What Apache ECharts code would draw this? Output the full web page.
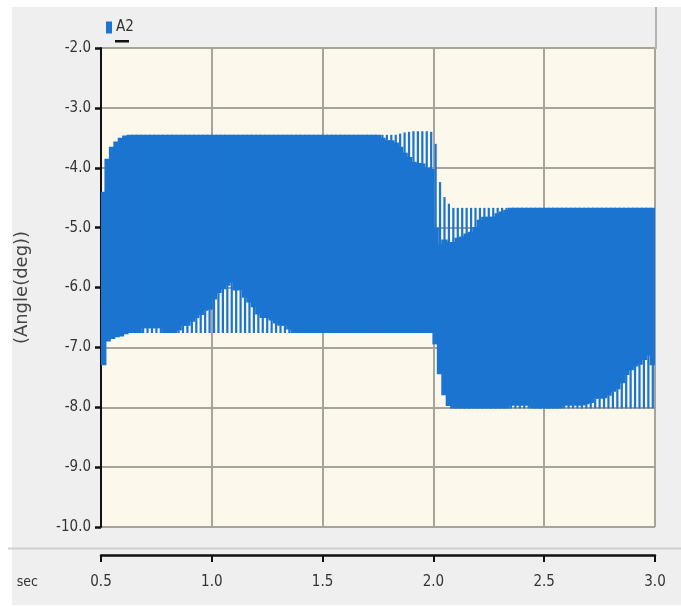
<!DOCTYPE html>
<html>
<head>
<meta charset="utf-8">
<script src="https://cdn.jsdelivr.net/npm/echarts@6/dist/echarts.min.js"></script>
<style>
html, body { margin: 0; padding: 0; background: #fff; }
#chart { width: 681px; height: 608px; }
</style>
</head>
<body>
<div id="chart"></div>
<script>
// sample grid: one column per 0.02 s, centred
var T0 = 0.51;
var STEP = 0.02;

// y tick labels (deg)
var yTicks = [-10, -9, -8, -7, -6, -5, -4, -3, -2];
var xTicks = [0.5, 1.0, 1.5, 2.0, 2.5, 3.0];

// top of the spikes
var peakHi = [
 -4.40, -3.85, -3.65, -3.56, -3.50, -3.46, -3.45, -3.45, -3.45, -3.45,
 -3.45, -3.45, -3.45, -3.45, -3.45, -3.45, -3.45, -3.45, -3.45, -3.45,
 -3.45, -3.45, -3.45, -3.45, -3.45, -3.45, -3.45, -3.45, -3.45, -3.45,
 -3.45, -3.45, -3.45, -3.45, -3.45, -3.45, -3.45, -3.45, -3.45, -3.45,
 -3.45, -3.45, -3.45, -3.45, -3.45, -3.45, -3.45, -3.45, -3.45, -3.45,
 -3.45, -3.45, -3.45, -3.45, -3.45, -3.45, -3.45, -3.45, -3.45, -3.45,
 -3.45, -3.45, -3.45, -3.45, -3.45, -3.45, -3.45, -3.43, -3.41, -3.40,
 -3.39, -3.39, -3.39, -3.39, -3.40, -3.60, -4.24, -4.49, -4.60, -4.67,
 -4.67, -4.67, -4.67, -4.67, -4.67, -4.67, -4.67, -4.67, -4.67, -4.67,
 -4.67, -4.67, -4.67, -4.67, -4.67, -4.67, -4.67, -4.67, -4.67, -4.67,
 -4.67, -4.67, -4.67, -4.67, -4.67, -4.67, -4.67, -4.67, -4.67, -4.67,
 -4.67, -4.67, -4.67, -4.67, -4.67, -4.67, -4.67, -4.67, -4.67, -4.67,
 -4.67, -4.67, -4.67, -4.67, -4.67
];
// where the dense (solid) part of the band starts, top side
var solidHi = [
 -4.40, -3.85, -3.65, -3.56, -3.50, -3.46, -3.45, -3.45, -3.45, -3.45,
 -3.45, -3.45, -3.45, -3.45, -3.45, -3.45, -3.45, -3.45, -3.45, -3.45,
 -3.45, -3.45, -3.45, -3.45, -3.45, -3.45, -3.45, -3.45, -3.45, -3.45,
 -3.45, -3.45, -3.45, -3.45, -3.45, -3.45, -3.45, -3.45, -3.45, -3.45,
 -3.45, -3.45, -3.45, -3.45, -3.45, -3.45, -3.45, -3.45, -3.45, -3.45,
 -3.45, -3.45, -3.45, -3.45, -3.45, -3.45, -3.45, -3.45, -3.45, -3.45,
 -3.45, -3.45, -3.45, -3.50, -3.54, -3.54, -3.58, -3.65, -3.75, -3.82,
 -3.90, -3.92, -3.93, -4.00, -4.02, -5.00, -5.27, -5.20, -5.24, -5.24,
 -5.17, -5.15, -5.10, -5.07, -4.99, -4.87, -4.82, -4.82, -4.82, -4.76,
 -4.73, -4.70, -4.67, -4.67, -4.67, -4.67, -4.67, -4.67, -4.67, -4.67,
 -4.67, -4.67, -4.67, -4.67, -4.67, -4.67, -4.67, -4.67, -4.67, -4.67,
 -4.67, -4.67, -4.67, -4.67, -4.67, -4.67, -4.67, -4.67, -4.67, -4.67,
 -4.67, -4.67, -4.67, -4.67, -4.67
];
// where the dense part ends, bottom side
var solidLo = [
 -7.30, -6.90, -6.86, -6.83, -6.82, -6.78, -6.76, -6.76, -6.76, -6.68,
 -6.68, -6.68, -6.68, -6.68, -6.76, -6.76, -6.76, -6.72, -6.64, -6.64,
 -6.57, -6.51, -6.46, -6.39, -6.37, -6.20, -6.09, -6.03, -5.97, -5.92,
 -6.05, -6.04, -6.17, -6.25, -6.33, -6.45, -6.51, -6.51, -6.55, -6.60,
 -6.64, -6.64, -6.70, -6.76, -6.76, -6.76, -6.76, -6.76, -6.76, -6.76,
 -6.76, -6.76, -6.76, -6.76, -6.76, -6.76, -6.76, -6.76, -6.76, -6.76,
 -6.76, -6.76, -6.76, -6.76, -6.76, -6.76, -6.76, -6.76, -6.76, -6.76,
 -6.76, -6.76, -6.76, -6.76, -6.76, -6.95, -7.45, -7.80, -7.98, -8.02,
 -8.02, -8.02, -8.02, -8.02, -8.02, -8.02, -8.02, -8.02, -8.02, -8.02,
 -8.02, -8.02, -7.97, -7.97, -7.97, -7.97, -7.97, -8.02, -8.02, -8.02,
 -8.02, -8.02, -8.02, -8.02, -7.97, -7.97, -7.97, -7.97, -7.97, -7.95,
 -7.93, -7.86, -7.86, -7.85, -7.81, -7.74, -7.70, -7.60, -7.46, -7.38,
 -7.32, -7.29, -7.21, -7.13, -7.30
];
// bottom of the spikes
var peakLo = [
 -7.30, -6.90, -6.86, -6.83, -6.82, -6.78, -6.76, -6.76, -6.76, -6.76,
 -6.76, -6.76, -6.76, -6.76, -6.76, -6.76, -6.76, -6.76, -6.76, -6.76,
 -6.76, -6.76, -6.76, -6.76, -6.76, -6.76, -6.76, -6.76, -6.76, -6.76,
 -6.76, -6.76, -6.76, -6.76, -6.76, -6.76, -6.76, -6.76, -6.76, -6.76,
 -6.76, -6.76, -6.76, -6.76, -6.76, -6.76, -6.76, -6.76, -6.76, -6.76,
 -6.76, -6.76, -6.76, -6.76, -6.76, -6.76, -6.76, -6.76, -6.76, -6.76,
 -6.76, -6.76, -6.76, -6.76, -6.76, -6.76, -6.76, -6.76, -6.76, -6.76,
 -6.76, -6.76, -6.76, -6.76, -6.76, -6.95, -7.45, -7.80, -7.98, -8.02,
 -8.02, -8.02, -8.02, -8.02, -8.02, -8.02, -8.02, -8.02, -8.02, -8.02,
 -8.02, -8.02, -8.02, -8.02, -8.02, -8.02, -8.02, -8.02, -8.02, -8.02,
 -8.02, -8.02, -8.02, -8.02, -8.02, -8.02, -8.02, -8.02, -8.02, -8.02,
 -8.02, -8.02, -8.02, -8.02, -8.02, -8.02, -8.02, -8.02, -8.02, -8.02,
 -8.02, -8.02, -8.02, -8.02, -8.02
];

var BLUE = '#1a74d0';
var GRIDC = '#a8a49b';
var FONT = "'Liberation Sans Narrow','DejaVu Sans Condensed',sans-serif";

var rows = [];
for (var i = 0; i < peakHi.length; i++) {
	rows.push([+(T0 + STEP * i).toFixed(2), peakHi[i], solidHi[i], solidLo[i], peakLo[i]]);
}

function renderBand(params, api) {
	var t = api.value(0);
	var xa = api.coord([t - STEP / 2, -5])[0];
	var xb = api.coord([t + STEP / 2, -5])[0];
	var yHi = api.coord([t, api.value(1)])[1];
	var ySHi = api.coord([t, api.value(2)])[1];
	var ySLo = api.coord([t, api.value(3)])[1];
	var yLo = api.coord([t, api.value(4)])[1];
	var w = xb - xa;
	var nw = w * 0.5;
	var nx = xa + (w - nw) / 2;
	var st = { fill: BLUE };
	// solid part overlaps its neighbours a little so no seams show
	var kids = [{
		type: 'rect',
		shape: { x: xa - 1, y: ySHi, width: w + 2, height: ySLo - ySHi },
		style: st
	}];
	if (ySHi - yHi > 0.5) {
		kids.push({ type: 'rect', shape: { x: nx, y: yHi, width: nw, height: ySHi - yHi + 0.5 }, style: st });
	}
	if (yLo - ySLo > 0.5) {
		kids.push({ type: 'rect', shape: { x: nx, y: ySLo - 0.5, width: nw, height: yLo - ySLo + 0.5 }, style: st });
	}
	return { type: 'group', children: kids };
}

var myChart = echarts.init(document.getElementById('chart'));
var option = {
	backgroundColor: '#ffffff',
	animation: false,
	graphic: [
		{ type: 'rect', z: -10, shape: { x: 12, y: 7, width: 669, height: 598 }, style: { fill: '#efefef' } },
		{ type: 'rect', z: -5, shape: { x: 8, y: 547.5, width: 673, height: 2 }, style: { fill: '#cfcfcf' } },
		{ type: 'rect', z: 5, shape: { x: 655, y: 7, width: 2, height: 42 }, style: { fill: '#b9b5ae' } },
		{ type: 'rect', z: 5, shape: { x: 115, y: 40, width: 14, height: 2.5 }, style: { fill: '#111' } }
	],
	legend: {
		left: 101,
		top: 15,
		itemWidth: 6,
		itemHeight: 12,
		icon: 'rect',
		itemGap: 6,
		data: ['A2'],
		textStyle: { fontFamily: FONT, fontSize: 15, color: '#333', padding: [0, 0, 0, -1] }
	},
	grid: {
		left: 101,
		right: 26,
		top: 48,
		bottom: 81,
		show: true,
		backgroundColor: '#fdf8ec',
		borderWidth: 0
	},
	xAxis: {
		type: 'value',
		min: xTicks[0],
		max: xTicks[xTicks.length - 1],
		interval: 0.5,
		offset: 28,
		name: 'sec',
		nameLocation: 'start',
		nameGap: 63,
		nameTextStyle: { fontFamily: FONT, fontSize: 14, color: '#333', verticalAlign: 'top', padding: [20, 0, 0, 0] },
		axisLine: { show: true, onZero: false, lineStyle: { color: '#111', width: 2.5 } },
		axisTick: { show: true, length: 7, lineStyle: { color: '#111', width: 2 } },
		axisLabel: {
			fontFamily: FONT, fontSize: 15, color: '#333', margin: 20,
			formatter: function (v) { return v.toFixed(1); }
		},
		splitLine: { show: true, lineStyle: { color: GRIDC, width: 2 } }
	},
	yAxis: {
		type: 'value',
		min: yTicks[0],
		max: yTicks[yTicks.length - 1],
		interval: 1,
		name: '(Angle(deg))',
		nameLocation: 'middle',
		nameRotate: 90,
		nameGap: 70,
		nameTextStyle: { fontFamily: 'DejaVu Sans', fontSize: 18, color: '#444' },
		axisLine: { show: true, lineStyle: { color: '#111', width: 2 } },
		axisTick: { show: true, length: 6, lineStyle: { color: '#111', width: 2.5 } },
		axisLabel: {
			fontFamily: FONT, fontSize: 15, color: '#333', margin: 10,
			formatter: function (v) { return v.toFixed(1); }
		},
		splitLine: { show: true, lineStyle: { color: GRIDC, width: 2 } }
	},
	series: [{
		name: 'A2',
		type: 'custom',
		color: BLUE,
		itemStyle: { color: BLUE },
		clip: true,
		renderItem: renderBand,
		encode: { x: 0, y: [1, 2, 3, 4] },
		data: rows,
		z: 3
	}]
};
myChart.setOption(option);
window.addEventListener('resize', function () {
	myChart.resize();
});
</script>
</body>
</html>
